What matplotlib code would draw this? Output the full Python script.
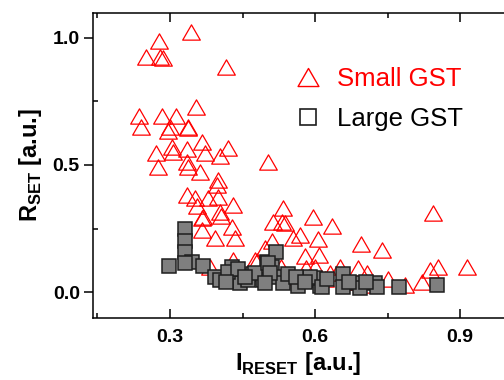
import matplotlib
matplotlib.use("Agg")
import matplotlib.pyplot as plt
from matplotlib.path import Path
from matplotlib.lines import Line2D
from matplotlib.ticker import MultipleLocator

plt.rcParams['font.family'] = ['Liberation Sans', 'DejaVu Sans']
plt.rcParams['mathtext.fontset'] = 'custom'
plt.rcParams['mathtext.rm'] = 'Liberation Sans:bold'
plt.rcParams['mathtext.bf'] = 'Liberation Sans:bold'

# Small GST (open red triangles)
small_x = [0.343, 0.278, 0.250, 0.279, 0.285, 0.416, 0.236, 0.283, 0.312, 0.354,
           0.239, 0.299, 0.337, 0.296, 0.338, 0.366, 0.421, 0.403, 0.372, 0.335,
           0.304, 0.272, 0.306, 0.276, 0.335, 0.338, 0.362, 0.400, 0.397, 0.335,
           0.352, 0.379, 0.400, 0.431, 0.355, 0.403, 0.369, 0.502, 0.534, 0.514,
           0.531, 0.538, 0.595, 0.635, 0.568, 0.554, 0.606, 0.695, 0.738, 0.512,
           0.497, 0.609, 0.479, 0.688, 0.652, 0.600, 0.581, 0.631, 0.708, 0.845,
           0.854, 0.838, 0.914, 0.821, 0.786, 0.714, 0.366, 0.405, 0.366, 0.393,
           0.428, 0.434, 0.431, 0.476, 0.383, 0.450, 0.500, 0.550, 0.620, 0.670,
           0.750, 0.530, 0.440, 0.580]
small_y = [1.025, 0.988, 0.924, 0.924, 0.920, 0.885, 0.694, 0.694, 0.694, 0.727,
           0.651, 0.651, 0.651, 0.634, 0.644, 0.592, 0.566, 0.535, 0.548, 0.562,
           0.572, 0.546, 0.552, 0.493, 0.513, 0.493, 0.474, 0.441, 0.421, 0.382,
           0.369, 0.369, 0.373, 0.343, 0.339, 0.316, 0.296, 0.513, 0.330, 0.277,
           0.277, 0.270, 0.294, 0.261, 0.224, 0.211, 0.207, 0.189, 0.165, 0.202,
           0.172, 0.146, 0.123, 0.093, 0.100, 0.100, 0.093, 0.076, 0.076, 0.310,
           0.097, 0.087, 0.097, 0.041, 0.028, 0.028, 0.290, 0.300, 0.244, 0.211,
           0.257, 0.211, 0.126, 0.126, 0.100, 0.070, 0.080, 0.060, 0.050, 0.040,
           0.050, 0.100, 0.090, 0.140]

# Large GST (filled grey squares)
large_x = [0.297, 0.332, 0.332, 0.332, 0.345, 0.332, 0.369, 0.393, 0.403, 0.428,
           0.438, 0.445, 0.472, 0.462, 0.493, 0.500, 0.519, 0.510, 0.517, 0.534,
           0.545, 0.565, 0.593, 0.610, 0.657, 0.657, 0.688, 0.693, 0.724, 0.729,
           0.774, 0.852, 0.600, 0.476, 0.503, 0.507, 0.497, 0.590, 0.614, 0.420,
           0.440, 0.455, 0.415, 0.560, 0.580, 0.625, 0.670, 0.705]
large_y = [0.104, 0.249, 0.201, 0.157, 0.119, 0.113, 0.104, 0.060, 0.047, 0.097,
           0.067, 0.034, 0.070, 0.047, 0.047, 0.119, 0.159, 0.100, 0.060, 0.034,
           0.070, 0.024, 0.047, 0.024, 0.071, 0.019, 0.034, 0.015, 0.037, 0.019,
           0.019, 0.028, 0.054, 0.074, 0.113, 0.074, 0.034, 0.060, 0.021, 0.080,
           0.090, 0.060, 0.040, 0.060, 0.040, 0.050, 0.040, 0.040]

# equilateral triangle marker
tri = Path([(-1, -0.866), (1, -0.866), (0, 0.866), (-1, -0.866)],
           [Path.MOVETO, Path.LINETO, Path.LINETO, Path.CLOSEPOLY])

fig = plt.figure(figsize=(5.04, 3.80), dpi=100)
ax = fig.add_axes([93/504, 1-318/380, 1-93/504, (318-13)/380])

ax.plot(small_x, small_y, ls='none', marker=tri, ms=12.7, mfc='none',
        mec='red', mew=0.9)
ax.plot(large_x, large_y, ls='none', marker='s', ms=10.6, mfc='#7f7f7f',
        mec='#1e1e1e', mew=1.1)

ax.set_xlim(0.1407, 0.991)
ax.set_ylim(-0.102, 1.098)

ax.xaxis.set_major_locator(MultipleLocator(0.3))
ax.xaxis.set_minor_locator(MultipleLocator(0.15))
ax.yaxis.set_major_locator(MultipleLocator(0.5))
ax.yaxis.set_minor_locator(MultipleLocator(0.25))
ax.set_xticks([0.3, 0.6, 0.9])
ax.set_xticklabels(['0.3', '0.6', '0.9'])
ax.set_yticks([0.0, 0.5, 1.0])
ax.set_yticklabels(['0.0', '0.5', '1.0'])

ax.spines['right'].set_visible(False)
for s in ['left', 'bottom', 'top']:
    ax.spines[s].set_linewidth(1.1)

ax.tick_params(axis='x', which='major', direction='in', length=6.5, width=1.1,
               top=True, labelsize=14, pad=8)
ax.tick_params(axis='x', which='minor', direction='in', length=3.5, width=1.1,
               top=True)
ax.tick_params(axis='y', which='major', direction='out', length=6.5, width=1.1,
               labelsize=14, pad=3)
ax.tick_params(axis='y', which='minor', direction='in', length=3.5, width=1.1)
for lab in ax.get_xticklabels() + ax.get_yticklabels():
    lab.set_fontweight('bold')

ax.set_xlabel(r'$\mathbf{I}_{\mathbf{RESET}}$ [a.u.]', fontsize=17,
              fontweight='bold', labelpad=3)
ax.set_ylabel(r'$\mathbf{R}_{\mathbf{SET}}$ [a.u.]', fontsize=17,
              fontweight='bold', labelpad=6)

handles = [Line2D([], [], ls='none', marker=tri, ms=15, mfc='none', mec='red', mew=1.0),
           Line2D([], [], ls='none', marker='s', ms=11, mfc='white', mec='#1e1e1e', mew=1.2)]
ax.legend(handles, ['Small GST', 'Large GST'], loc='upper left',
          bbox_to_anchor=(0.493, 0.822), frameon=False, fontsize=18.5,
          labelcolor=['red', 'black'], handlelength=1.0, handletextpad=0.6,
          borderpad=0, borderaxespad=0, labelspacing=0.62)

fig.savefig('out.png', dpi=100)
